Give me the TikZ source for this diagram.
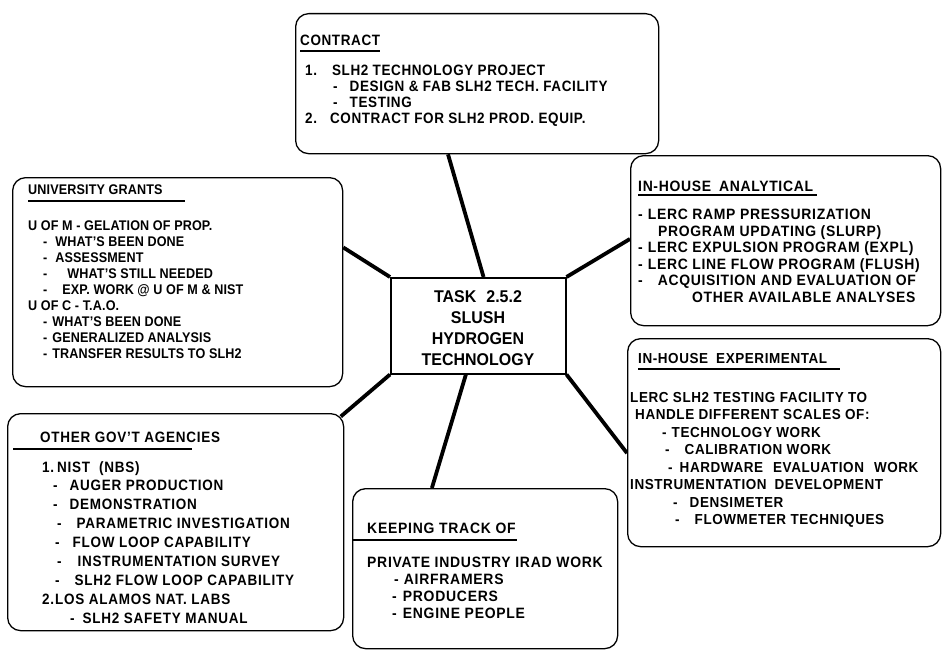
\documentclass[tikz,border=0pt]{standalone}
\usepackage{fontspec}
\setmainfont{Liberation Sans}
\usetikzlibrary{calc,backgrounds}
\begin{document}
\begin{tikzpicture}[x=1pt,y=-1pt,
  box/.style={draw, line width=1.3pt, rounded corners=13pt, fill=white, inner sep=0pt, anchor=north west},
  ctrbox/.style={draw, line width=1.5pt, fill=white, inner sep=0pt, anchor=north west},
  conn/.style={line width=3.8pt},
  txt/.style={anchor=north west, inner sep=0pt, align=left},
  uline/.style={line width=1.1pt},
  fcon/.style={font=\fontsize{15}{15.8}\selectfont\bfseries\addfontfeatures{LetterSpace=4,FakeStretch=0.9}},
  funi/.style={font=\fontsize{14}{16}\selectfont\bfseries\addfontfeatures{LetterSpace=1,FakeStretch=0.9}},
  fgov/.style={font=\fontsize{15}{18.9}\selectfont\bfseries\addfontfeatures{LetterSpace=5,FakeStretch=0.9}},
  fkeep/.style={font=\fontsize{15}{16.8}\selectfont\bfseries\addfontfeatures{LetterSpace=5,FakeStretch=0.93}},
  fana/.style={font=\fontsize{15}{16.5}\selectfont\bfseries\addfontfeatures{LetterSpace=4.5,FakeStretch=0.93}},
  fexp/.style={font=\fontsize{14.5}{17.5}\selectfont\bfseries\addfontfeatures{LetterSpace=4,FakeStretch=0.93}},
  fctr/.style={font=\fontsize{17}{21}\selectfont\bfseries\addfontfeatures{FakeStretch=0.94}}
]
\useasboundingbox (0,0) rectangle (942,650);

% boxes
\node[box, minimum width=363pt, minimum height=140pt] (contract) at (295,13) {};
\node[box, minimum width=330pt, minimum height=209pt] (univ) at (12,177) {};
\node[box, minimum width=336pt, minimum height=217pt] (gov) at (7,413) {};
\node[box, minimum width=265pt, minimum height=160pt] (keep) at (352,488) {};
\node[box, minimum width=310pt, minimum height=170pt] (inhana) at (630,155) {};
\node[box, minimum width=313pt, minimum height=208pt] (inhexp) at (627,338) {};
\node[ctrbox, minimum width=175pt, minimum height=96pt] (ctr) at (390,277) {};

% connectors
\begin{pgfonlayer}{background}
\fill[white] (0,0) rectangle (942,650);
\draw[conn] ($(contract.south west)!0.42!(contract.south east)$) -- ($(ctr.north west)!0.53!(ctr.north east)$);
\draw[conn] ($(univ.north east)!0.335!(univ.south east)$) -- (ctr.north west);
\draw[conn] ([xshift=-3.5pt,yshift=-3.5pt]gov.north east) -- (ctr.south west);
\draw[conn] ($(keep.north west)!0.30!(keep.north east)$) -- ($(ctr.south west)!0.43!(ctr.south east)$);
\draw[conn] ($(inhana.north west)!0.49!(inhana.south west)$) -- (ctr.north east);
\draw[conn] ($(inhexp.north west)!0.55!(inhexp.south west)$) -- (ctr.south east);
\end{pgfonlayer}

% center
\node[anchor=north, inner sep=0pt, align=center, fctr] (ctrT) at (478,290)
  {TASK\hspace{10pt}2.5.2\\SLUSH\\HYDROGEN\\TECHNOLOGY};

% contract
\node[txt, fcon] (contractT) at (300,35) {CONTRACT};
\draw[uline] (300,51) -- (380,51);
\node[txt, fcon] (contractB) at (305,65)
  {1.\hspace{15pt}SLH2 TECHNOLOGY PROJECT\\\hspace*{28pt}-\hspace{12pt}DESIGN \& FAB SLH2 TECH. FACILITY\\\hspace*{28pt}-\hspace{12pt}TESTING\\2.\hspace{13pt}CONTRACT FOR SLH2 PROD. EQUIP.};

% university
\node[txt, funi] (univT) at (28,185) {UNIVERSITY GRANTS};
\draw[uline] (28,201) -- (185,201);
\node[txt, funi] (univB) at (28,221)
  {U OF M - GELATION OF PROP.\\\hspace*{15pt}-\hspace{8pt}WHAT'S BEEN DONE\\\hspace*{15pt}-\hspace{8pt}ASSESSMENT\\\hspace*{15pt}-\hspace{20pt}WHAT'S STILL NEEDED\\\hspace*{15pt}-\hspace{15pt}EXP. WORK @ U OF M \& NIST\\U OF C - T.A.O.\\\hspace*{15pt}-\hspace{5pt}WHAT'S BEEN DONE\\\hspace*{15pt}-\hspace{5pt}GENERALIZED ANALYSIS\\\hspace*{15pt}-\hspace{5pt}TRANSFER RESULTS TO SLH2};

% other gov't agencies
\node[txt, fgov] (govT) at (40,432) {OTHER GOV'T AGENCIES};
\draw[uline] (13,449) -- (192,449);
\node[txt, fgov] (govB) at (42,461)
  {1.\hspace{3pt}NIST\hspace{9pt}(NBS)\\\hspace*{11pt}-\hspace{12pt}AUGER PRODUCTION\\\hspace*{11pt}-\hspace{12pt}DEMONSTRATION\\\hspace*{15pt}-\hspace{15pt}PARAMETRIC INVESTIGATION\\\hspace*{13pt}-\hspace{13pt}FLOW LOOP CAPABILITY\\\hspace*{15pt}-\hspace{16pt}INSTRUMENTATION SURVEY\\\hspace*{13pt}-\hspace{15pt}SLH2 FLOW LOOP CAPABILITY\\2.\hspace{1pt}LOS ALAMOS NAT. LABS\\\hspace*{28pt}-\hspace{8pt}SLH2 SAFETY MANUAL};

% keeping track
\node[txt, fkeep] (keepT) at (367,523) {KEEPING TRACK OF};
\draw[uline] (352,540) -- (517,540);
\node[txt, fkeep] (keepB) at (367,557)
  {PRIVATE INDUSTRY IRAD WORK\\\hspace*{27pt}-\hspace{5pt}AIRFRAMERS\\\hspace*{25pt}-\hspace{6pt}PRODUCERS\\\hspace*{25pt}-\hspace{6pt}ENGINE PEOPLE};

% in-house analytical
\node[txt, fana] (anaT) at (638,181) {IN-HOUSE\hspace{8pt}ANALYTICAL};
\draw[uline] (638,195) -- (817,195);
\node[txt, fana] (anaB) at (638,209)
  {-\hspace{5pt}LERC RAMP PRESSURIZATION\\\hspace*{20pt}PROGRAM UPDATING (SLURP)\\-\hspace{5pt}LERC EXPULSION PROGRAM (EXPL)\\-\hspace{5pt}LERC LINE FLOW PROGRAM (FLUSH)\\-\hspace{15pt}ACQUISITION AND EVALUATION OF\\\hspace*{54pt}OTHER AVAILABLE ANALYSES};

% in-house experimental
\node[txt, fexp] (expT) at (638,353) {IN-HOUSE\hspace{8pt}EXPERIMENTAL};
\draw[uline] (638,369) -- (840,369);
\node[txt, fexp] (expB) at (630,392)
  {LERC SLH2 TESTING FACILITY TO\\\hspace*{5pt}HANDLE DIFFERENT SCALES OF:\\\hspace*{32pt}-\hspace{5pt}TECHNOLOGY WORK\\\hspace*{35pt}-\hspace{15pt}CALIBRATION WORK\\\hspace*{38pt}-\hspace{7pt}HARDWARE\hspace{10pt}EVALUATION\hspace{10pt}WORK\\INSTRUMENTATION\hspace{8pt}DEVELOPMENT\\\hspace*{43pt}-\hspace{12pt}DENSIMETER\\\hspace*{45pt}-\hspace{15pt}FLOWMETER TECHNIQUES};
\end{tikzpicture}
\end{document}
